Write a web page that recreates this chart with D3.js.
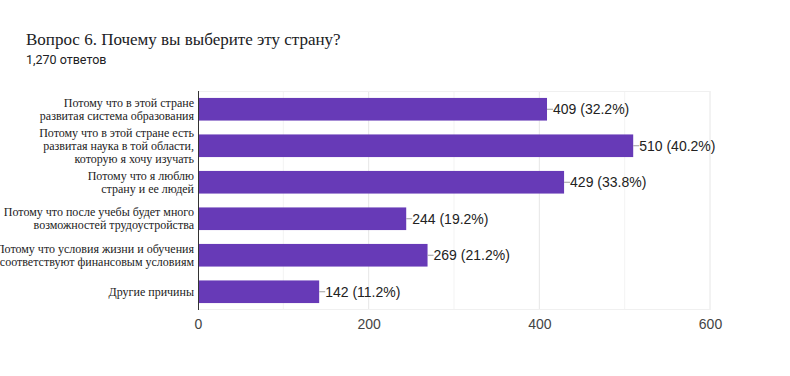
<!DOCTYPE html>
<html lang="ru">
<head>
<meta charset="utf-8">
<title>Вопрос 6</title>
<script src="https://d3js.org/d3.v7.min.js"></script>
<style>
  body { margin: 0; background: #fff; }
</style>
</head>
<body>
<script>
// data
var categories = [
  ["Потому что в этой стране", "развитая система образования"],
  ["Потому что в этой стране есть", "развитая наука в той области,", "которую я хочу изучать"],
  ["Потому что я люблю", "страну и ее людей"],
  ["Потому что после учебы будет много", "возможностей трудоустройства"],
  ["Потому что условия жизни и обучения", "соответствуют финансовым условиям"],
  ["Другие причины"]
]
var counts = [409, 510, 429, 244, 269, 142]
var percents = ["32.2%", "40.2%", "33.8%", "19.2%", "21.2%", "11.2%"]
var xTicks = [0, 200, 400, 600]

var w = 790, h = 376
var margin = {left: 198, right: 80, top: 91, bottom: 66}

var svg = d3.select("body").append("svg")
  .attr("width", w).attr("height", h)

// titles
svg.append("text")
  .attr("x", 26).attr("y", 45)
  .style("font-family", "'Liberation Serif', 'Times New Roman', serif")
  .style("font-size", "17px")
  .attr("fill", "#202124")
  .text("Вопрос 6. Почему вы выберите эту страну?")
svg.append("text")
  .attr("x", 26).attr("y", 64)
  .style("font-family", "Roboto, Arial, sans-serif")
  .style("font-size", "12.5px")
  .attr("fill", "#202124")
  .text("1,270 ответов")

var x = d3.scaleLinear().domain([0, 600]).range([margin.left, 710])
var y = d3.scaleBand().domain(d3.range(counts.length))
  .range([margin.top, 310]).paddingInner(0.38).paddingOuter(0.19)

var g = svg.append("g")

// gridlines
g.selectAll("line.minor")
  .data(d3.range(100, 601, 100))
  .enter().append("line")
  .attr("x1", d => x(d)).attr("x2", d => x(d))
  .attr("y1", margin.top).attr("y2", 310)
  .attr("stroke", d => d % 200 == 0 ? "#e6e6e6" : "#f3f3f3")
  .attr("stroke-width", 1)
g.append("line")
  .attr("x1", margin.left).attr("x2", 710)
  .attr("y1", margin.top + 0.5).attr("y2", margin.top + 0.5)
  .attr("stroke", "#f0f0f0")
g.append("line")
  .attr("x1", margin.left).attr("x2", 710)
  .attr("y1", 309.5).attr("y2", 309.5)
  .attr("stroke", "#f0f0f0")

// bars
g.selectAll("rect")
  .data(counts)
  .enter().append("rect")
  .attr("x", x(0))
  .attr("y", (d, i) => y(i))
  .attr("width", d => x(d) - x(0))
  .attr("height", y.bandwidth())
  .attr("fill", "#673ab7")

// leader lines and value labels
g.selectAll("line.lead")
  .data(counts)
  .enter().append("line")
  .attr("x1", d => x(d)).attr("x2", d => x(d) + 6)
  .attr("y1", (d, i) => y(i) + y.bandwidth() / 2)
  .attr("y2", (d, i) => y(i) + y.bandwidth() / 2)
  .attr("stroke", "#9e9e9e")
g.selectAll("text.val")
  .data(counts)
  .enter().append("text")
  .attr("x", d => x(d) + 6)
  .attr("y", (d, i) => y(i) + y.bandwidth() / 2)
  .attr("dy", "0.35em")
  .style("font-family", "'Liberation Sans', Arial, sans-serif")
  .style("font-size", "14px")
  .attr("fill", "#222")
  .text((d, i) => d + " (" + percents[i] + ")")

// category labels
var lab = g.selectAll("text.cat")
  .data(categories)
  .enter().append("text")
  .attr("text-anchor", "end")
  .style("font-family", "'Liberation Serif', 'Times New Roman', serif")
  .style("font-size", "12px")
  .attr("fill", "#222")
lab.each(function(lines, i) {
  var cy = y(i) + y.bandwidth() / 2
  var lh = 13
  var top = cy - (lines.length - 1) * lh / 2
  d3.select(this).selectAll("tspan")
    .data(lines).enter().append("tspan")
    .attr("x", 194)
    .attr("y", (d, k) => top + k * lh)
    .attr("dy", "0.35em")
    .text(d => d)
})

// y axis line
g.append("line")
  .attr("x1", margin.left + 0.5).attr("x2", margin.left + 0.5)
  .attr("y1", margin.top).attr("y2", 310)
  .attr("stroke", "#333")

// x axis ticks
var xAxis = d3.axisBottom(x).tickValues(xTicks).tickSize(0).tickPadding(9)
var ax = svg.append("g").attr("transform", "translate(0,310)").call(xAxis)
ax.select(".domain").remove()
ax.selectAll("text")
  .style("font-family", "'Liberation Sans', Arial, sans-serif")
  .style("font-size", "14px")
  .attr("fill", "#444")
</script>
</body>
</html>
